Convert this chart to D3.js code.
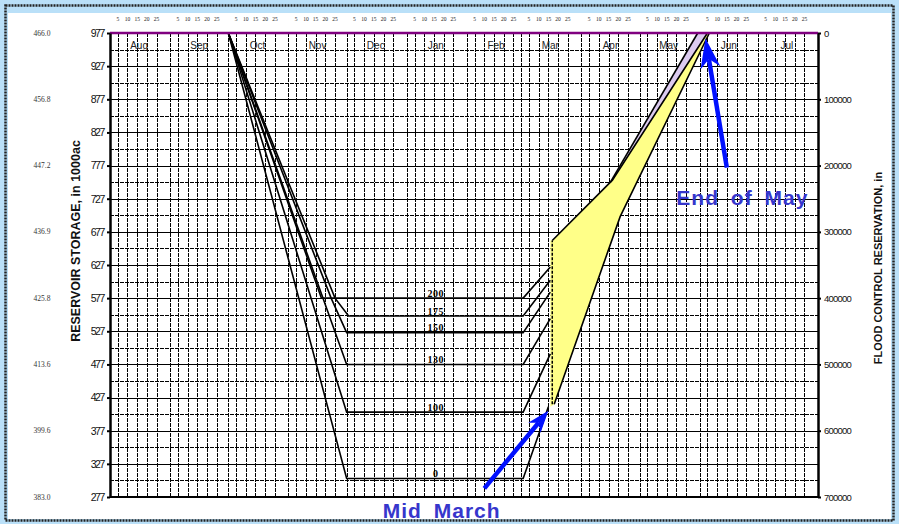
<!DOCTYPE html>
<html>
<head>
<meta charset="utf-8">
<title>Flood control curves</title>
<script src="https://cdnjs.cloudflare.com/ajax/libs/d3/7.8.5/d3.min.js"></script>
<style>
	body { margin: 0; background: #bae0f8; }
	svg { display: block; }
	text { font-family: "Liberation Sans", Arial, sans-serif; }
</style>
</head>
<body>
<script>

// axis labels
var months = ["Aug","Sep","Oct","Nov","Dec","Jan","Feb","Mar","Apr","May","Jun","Jul"];
var dayTicks = [5,10,15,20,25];
var storageTicks = [277,327,377,427,477,527,577,627,677,727,777,827,877,927,977];
var reservationTicks = [0,100000,200000,300000,400000,500000,600000,700000];
var elevationLabels = ["466.0","456.8","447.2","436.9","425.8","413.6","399.6","383.0"];

// drawdown / refill curves, [date, storage in 1000 ac-ft]
var curve200 = [["1998-10-01",977],["1998-11-18",577],["1999-03-02",577],["1999-03-16",624]];
var curve175 = [["1998-10-01",977],["1998-11-25",577],["1998-12-02",550],["1999-03-02",550],["1999-03-16",604]];
var curve150 = [["1998-10-01",977],["1998-11-23",577],["1998-12-01",525],["1999-03-02",525],["1999-03-16",586]];
var curve130 = [["1998-10-01",977],["1998-12-01",477],["1999-03-02",477],["1999-03-16",546]];
var curve100 = [["1998-10-01",977],["1998-12-01",405],["1999-03-02",405],["1999-03-16",493]];
var curve0   = [["1998-10-01",977],["1998-12-01",305],["1999-03-02",305],["1999-03-15",413]];
var curveLabels = ["200","175","150","130","100","0"];
var labelDate = "1999-01-16";

// refill envelope (yellow) and lavender band
var yellowLeftEdge = "1999-03-16";
var yellowBottom = 413;
var yellowTop = [["1999-03-17",664],["1999-04-17",755],["1999-06-05",977]];
var yellowRight = [["1999-03-18",417],["1999-04-21",700],["1999-06-06",977]];
var lavenderLeft = [["1999-04-16",752],["1999-05-31",977]];
var midMarchLine = [["1999-03-17",417],["1999-03-17",664]];

// annotations
var arrowMidMarch = [["1999-02-10",290],["1999-03-15",407]];
var arrowEndMay = [["1999-06-15",774],["1999-06-04",969]];
var noteEndMay = ["1999-06-23",718];
var noteMidMarchDate = "1999-01-19";

function main(){

	var w = 899;
	var h = 524;
	var x0 = 110, x1 = 818, y0 = 33, y1 = 497;

	var parseDate = d3.timeParse("%Y-%m-%d");
	var start = parseDate("1998-08-01");
	var end = parseDate("1999-08-01");

	var svg = d3.select("body")
				.append("svg")
				.attr("width",w)
				.attr("height",h);

	// frame
	svg.append("rect")
		.attr("x",8).attr("y",13)
		.attr("width",w-16).attr("height",h-18)
		.attr("fill","white");
	svg.append("rect")
		.attr("x",5.5).attr("y",5.5)
		.attr("width",w-11).attr("height",h-9)
		.attr("fill","none")
		.attr("stroke","#222")
		.attr("stroke-width",2.5)
		.attr("stroke-dasharray","2,1");

	var xScale = d3.scaleTime()
				.domain([start, end])
				.range([x0, x1]);

	var yScale = d3.scaleLinear()
				.domain([277, 977])
				.range([y1, y0]);

	var yRight = d3.scaleLinear()
				.domain([0, 700000])
				.range([y0, y1]);

	var grid = svg.append("g")
		.attr("class","grid")
		.attr("shape-rendering","crispEdges");

	// horizontal grid every 25
	var hLines = d3.range(277 + 25, 977, 25);
	grid.selectAll(".hline")
		.data(hLines)
		.enter()
		.append("line")
		.attr("x1",x0).attr("x2",x1)
		.attr("y1",function(d){return Math.round(yScale(d)) + 0.5;})
		.attr("y2",function(d){return Math.round(yScale(d)) + 0.5;})
		.attr("stroke","black")
		.attr("stroke-width",1)
		.attr("stroke-dasharray",function(d){return (d-277)%50==0 ? null : "4,1";});

	// vertical grid: month starts and every 5 days
	var monthStarts = d3.timeMonths(start, end);
	var vLines = [];
	monthStarts.forEach(function(m, i){
		if(i > 0) vLines.push(m);
		dayTicks.forEach(function(dd){
			vLines.push(new Date(m.getFullYear(), m.getMonth(), dd));
		});
	});
	grid.selectAll(".vline")
		.data(vLines)
		.enter()
		.append("line")
		.attr("x1",function(d){return Math.round(xScale(d)) + 0.5;})
		.attr("x2",function(d){return Math.round(xScale(d)) + 0.5;})
		.attr("y1",y0).attr("y2",y1)
		.attr("stroke","black")
		.attr("stroke-width",1)
		.attr("stroke-dasharray","4,1");

	var line = d3.line()
				.x(function(d){return xScale(parseDate(d[0]));})
				.y(function(d){return yScale(d[1]);});

	// yellow envelope
	var yellowPoly = [[yellowLeftEdge, yellowBottom],[yellowLeftEdge, yellowTop[0][1]]]
						.concat(yellowTop, yellowRight.slice().reverse());
	svg.append("path")
		.attr("d", line(yellowPoly) + "Z")
		.attr("fill","#ffff88")
		.attr("stroke","none");

	var lavenderPoly = lavenderLeft.concat([yellowTop[2], yellowTop[1]]);
	svg.append("path")
		.attr("d", line(lavenderPoly) + "Z")
		.attr("fill","#dccbf0")
		.attr("stroke","none");

	// curves
	var curves = [curve200, curve175, curve150, curve130, curve100, curve0];
	svg.selectAll(".series")
		.data(curves)
		.enter()
		.append("path")
		.attr("class","series")
		.attr("d", line)
		.attr("fill","none")
		.attr("stroke","black")
		.attr("stroke-width",1.6);

	[yellowTop, yellowRight, lavenderLeft].forEach(function(s){
		svg.append("path")
			.attr("d", line(s))
			.attr("fill","none")
			.attr("stroke","black")
			.attr("stroke-width",1.6);
	});
	svg.append("path")
		.attr("d", line(midMarchLine))
		.attr("fill","none")
		.attr("stroke","black")
		.attr("stroke-width",1.5)
		.attr("stroke-dasharray","3,1.5");

	// curve labels
	svg.selectAll(".clabel")
		.data(curves)
		.enter()
		.append("text")
		.attr("x", xScale(parseDate(labelDate)))
		.attr("y", function(d){return yScale(d[d.length-2][1]) - 1.5;})
		.attr("text-anchor","middle")
		.attr("font-weight","bold")
		.attr("font-size",10)
		.attr("letter-spacing","0.5px")
		.style("font-family","'Liberation Serif', serif")
		.text(function(d,i){return curveLabels[i];});

	// top reference line
	svg.append("line")
		.attr("x1",x0).attr("x2",x1)
		.attr("y1",yScale(977)).attr("y2",yScale(977))
		.attr("stroke","#800080")
		.attr("stroke-width",2.5);

	// axes
	var yAxis = d3.axisLeft(yScale)
				.tickValues(storageTicks)
				.tickSize(3)
				.tickSizeOuter(0)
				.tickFormat(d3.format("d"));
	var gl = svg.append("g")
		.attr("class","yaxis")
		.attr("transform","translate("+x0+",0)")
		.call(yAxis);
	gl.select(".domain").attr("stroke-width",2.5);
	gl.selectAll(".tick line").attr("stroke-width",2);
	gl.selectAll(".tick text")
		.attr("font-size",10.5)
		.attr("font-family",null)
		.attr("letter-spacing","-1.4px")
		.attr("fill","#111");

	var yAxisR = d3.axisRight(yRight)
				.tickValues(reservationTicks)
				.tickSize(3)
				.tickSizeOuter(0)
				.tickFormat(d3.format("d"));
	var gr = svg.append("g")
		.attr("class","yaxisR")
		.attr("transform","translate("+x1+",0)")
		.call(yAxisR);
	gr.select(".domain").attr("stroke-width",2.5);
	gr.selectAll(".tick line").attr("stroke-width",2);
	gr.selectAll(".tick text")
		.attr("font-size",9.5)
		.attr("font-family",null)
		.attr("letter-spacing","-0.8px")
		.attr("fill","#111");

	svg.append("line")
		.attr("x1",x0).attr("x2",x1)
		.attr("y1",y1).attr("y2",y1)
		.attr("stroke","black")
		.attr("stroke-width",2);

	// elevation labels far left
	svg.selectAll(".elev")
		.data(elevationLabels)
		.enter()
		.append("text")
		.attr("x",42)
		.attr("y",function(d,i){return yRight(reservationTicks[i]) + 2.5;})
		.attr("text-anchor","middle")
		.attr("font-size",7.5)
		.attr("fill","#333")
		.style("font-family","'Liberation Serif', serif")
		.text(function(d){return d;});

	// month names
	svg.selectAll(".month")
		.data(monthStarts)
		.enter()
		.append("text")
		.attr("x",function(d){return xScale(new Date(d.getFullYear(), d.getMonth(), 16));})
		.attr("y",y0+16)
		.attr("text-anchor","middle")
		.attr("font-size",10)
		.attr("fill","#222")
		.text(function(d,i){return months[i];});

	// day numbers above
	var dayLabels = [];
	monthStarts.forEach(function(m){
		dayTicks.forEach(function(dd){
			dayLabels.push({date:new Date(m.getFullYear(), m.getMonth(), dd), t:dd});
		});
	});
	svg.selectAll(".day")
		.data(dayLabels)
		.enter()
		.append("text")
		.attr("x",function(d){return xScale(d.date);})
		.attr("y",21)
		.attr("text-anchor","middle")
		.attr("font-size",5.5)
		.attr("fill","#222")
		.style("font-family","'Liberation Serif', serif")
		.text(function(d){return d.t;});

	// axis titles
	svg.append("text")
		.attr("transform","translate(80,"+241+") rotate(-90)")
		.attr("text-anchor","middle")
		.attr("font-size",12.5)
		.attr("font-weight","bold")
		.attr("fill","#111")
		.text("RESERVOIR STORAGE, in 1000ac");

	svg.append("text")
		.attr("transform","translate(882,"+268+") rotate(-90)")
		.attr("text-anchor","middle")
		.attr("font-size",11)
		.attr("font-weight","bold")
		.attr("fill","#111")
		.text("FLOOD CONTROL RESERVATION, in");

	// arrows
	function arrow(pts, len, half){
		var p0 = [xScale(parseDate(pts[0][0])), yScale(pts[0][1])];
		var p1 = [xScale(parseDate(pts[1][0])), yScale(pts[1][1])];
		var dx = p1[0]-p0[0], dy = p1[1]-p0[1];
		var l = Math.sqrt(dx*dx+dy*dy);
		var ux = dx/l, uy = dy/l;
		var bx = p1[0]-ux*len, by = p1[1]-uy*len;
		var nx = p1[0]-ux*len*0.7, ny = p1[1]-uy*len*0.7;
		svg.append("line")
			.attr("x1",p0[0]).attr("y1",p0[1])
			.attr("x2",nx).attr("y2",ny)
			.attr("stroke","#0010ff")
			.attr("stroke-width",4.5);
		svg.append("path")
			.attr("d","M"+p1[0]+","+p1[1]+
				"L"+(bx-uy*half)+","+(by+ux*half)+
				"L"+nx+","+ny+
				"L"+(bx+uy*half)+","+(by-ux*half)+"Z")
			.attr("fill","#0010ff");
	}
	arrow(arrowMidMarch, 22, 8);
	arrow(arrowEndMay, 30, 10);

	// notes
	svg.append("text")
		.attr("x",xScale(parseDate(noteEndMay[0])))
		.attr("y",yScale(noteEndMay[1]))
		.attr("text-anchor","middle")
		.attr("font-size",21)
		.attr("font-weight","bold")
		.attr("letter-spacing","1px")
		.attr("word-spacing","5px")
		.attr("fill","#3636cc")
		.text("End of May");

	svg.append("text")
		.attr("x",xScale(parseDate(noteMidMarchDate)))
		.attr("y",y1+21)
		.attr("text-anchor","middle")
		.attr("font-size",21)
		.attr("font-weight","bold")
		.attr("letter-spacing","1px")
		.attr("word-spacing","5px")
		.attr("fill","#3636cc")
		.text("Mid March");
}

main();
</script>
</body>
</html>
